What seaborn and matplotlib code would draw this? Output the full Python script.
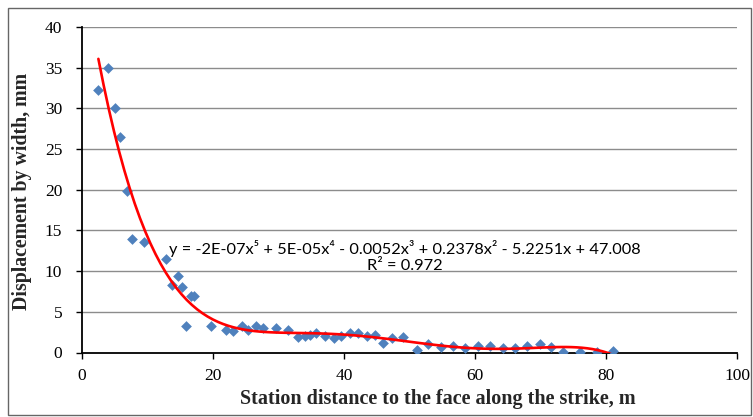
import numpy as np
import pandas as pd
import matplotlib
matplotlib.use("Agg")
import matplotlib.pyplot as plt
import seaborn as sns
from matplotlib.patches import Rectangle

# ---- data ----
distance_m = [2.5, 3.9, 5.1, 5.8, 6.8, 7.6, 9.5, 12.8, 13.8, 14.6, 15.3, 16.6, 17.1,
              15.9, 19.7, 22.0, 23.1, 24.5, 25.4, 26.6, 27.7, 29.6, 31.5, 33.0, 34.0,
              34.8, 35.8, 37.1, 38.4, 39.6, 40.9, 42.2, 43.5, 44.7, 45.9, 47.3, 49.0,
              51.1, 52.9, 54.8, 56.7, 58.5, 60.4, 62.3, 64.2, 66.1, 68.0, 69.9, 71.6,
              73.5, 76.0, 78.6, 81.1]
displacement_mm = [32.2, 35.0, 30.0, 26.5, 19.9, 14.0, 13.6, 11.5, 8.3, 9.4, 8.0, 6.9, 7.0,
                   3.3, 3.3, 2.8, 2.6, 3.3, 2.8, 3.3, 3.0, 3.0, 2.8, 1.9, 2.0,
                   2.2, 2.4, 2.0, 1.8, 2.0, 2.4, 2.4, 2.0, 2.2, 1.2, 1.8, 1.9,
                   0.3, 1.0, 0.7, 0.8, 0.5, 0.8, 0.8, 0.5, 0.5, 0.8, 1.0, 0.7,
                   0.05, 0.1, 0.1, 0.2]
x_ticks = [0, 20, 40, 60, 80, 100]
y_ticks = [0, 5, 10, 15, 20, 25, 30, 35, 40]
equation_text = "y = -2E-07x\u2075 + 5E-05x\u2074 - 0.0052x\u00b3 + 0.2378x\u00b2 - 5.2251x + 47.008\nR\u00b2 = 0.972"
x_label = "Station distance to the face along the strike, m"
y_label = "Displacement by width, mm"

df = pd.DataFrame({"x": distance_m, "y": displacement_mm})

sns.set_style("white")
plt.rcParams["font.family"] = ["Liberation Serif", "DejaVu Serif"]

W, H = 753, 417
fig = plt.figure(figsize=(W / 100, H / 100), dpi=100)
ax = fig.add_axes([82 / W, (H - 352.5) / H, (737 - 82) / W, (352.5 - 27) / H])

# grid
for yt in y_ticks[1:]:
    ax.axhline(yt, color="#8c8c8c", lw=1.0, zorder=0)

sns.scatterplot(data=df, x="x", y="y", marker="D", s=30, color="#4F81BD",
                edgecolor="#4F81BD", linewidth=0, ax=ax, zorder=3)
sns.regplot(data=df, x="x", y="y", order=5, ci=None, scatter=False, truncate=True,
            line_kws={"color": "#FF0000", "lw": 1.9, "zorder": 4}, ax=ax)

ax.set_xlim(0, 100)
ax.set_ylim(0, 40)
ax.set_xticks(x_ticks)
ax.set_yticks(y_ticks)
ax.tick_params(axis="both", direction="out", length=4.3, width=1.0, color="black",
               labelsize=12.5, labelcolor="black")
ax.tick_params(axis="y", pad=10, left=True)
ax.tick_params(axis="x", pad=7, bottom=True)

for s in ["top", "right"]:
    ax.spines[s].set_visible(False)
for s in ["left", "bottom"]:
    ax.spines[s].set_color("black")
    ax.spines[s].set_linewidth(1.3)

ax.set_xlabel(x_label, family="Liberation Serif", fontweight="bold", fontsize=14.5)
ax.set_ylabel(y_label, family="Liberation Serif", fontweight="bold", fontsize=14.3)
ax.xaxis.set_label_coords(0.543, -0.112)
ax.yaxis.set_label_coords(-0.077, 0.495)

ax.text(49.3, 11.8, equation_text, ha="center", va="center", multialignment="center",
        fontsize=11.75, family=["Lato", "DejaVu Sans"], color="black", linespacing=1.1, zorder=5)

fig.patches.append(Rectangle((8 / W, 2 / H), (751 - 8) / W, (409 - 2) / H,
                             transform=fig.transFigure, fill=False,
                             edgecolor="#666666", lw=1.0))

fig.savefig("out.png", dpi=100)
